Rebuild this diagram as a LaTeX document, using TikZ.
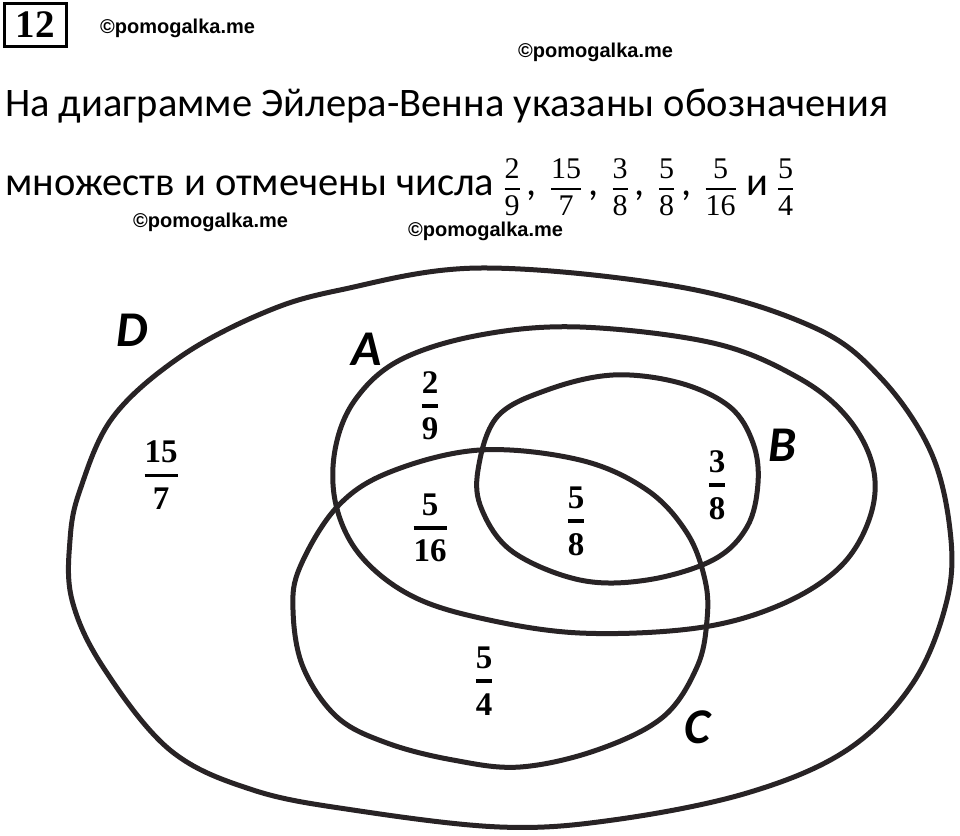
\documentclass[tikz,border=0pt]{standalone}
\usepackage{amsmath}
\usepackage{fontspec}
\setmainfont{Carlito}
\newfontfamily\wmfont{Liberation Sans}
\newfontfamily\digfont{Liberation Serif}
\definecolor{ink}{RGB}{40,35,37}
\tikzset{
    setline/.style={draw=ink, line width=5pt, line join=round},
    setname/.style={font=\fontsize{50}{50}\selectfont\bfseries\itshape},
    wmark/.style={anchor=west, inner sep=0pt, font=\wmfont\fontsize{20}{20}\selectfont\bfseries},
    frnode/.style={inner sep=0pt, font=\digfont\fontsize{33}{33}\selectfont\bfseries},
    textline/.style={anchor=base west, inner sep=0pt, font=\fontsize{40.5}{40.5}\selectfont}
}
\newcommand{\fr}[2]{$\genfrac{}{}{3.5pt}{0}{\hbox{#1}}{\hbox{#2}}$}
\newcommand{\tfr}[2]{\mbox{\fontsize{30}{30}\selectfont$\genfrac{}{}{2pt}{0}{\hbox{\digfont #1}}{\hbox{\digfont #2}}$}}
\newcommand{\cm}{\hspace{6pt},\hspace{13pt}}
\begin{document}
\begin{tikzpicture}[x=1pt, y=-1pt]
        \useasboundingbox (0,0) rectangle (960,835);

        \node[draw, line width=3pt, minimum width=62pt, minimum height=43pt, inner sep=0pt, font=\digfont\fontsize{39}{39}\selectfont\bfseries] (NR) at (35.5,25) {12};

        \node[wmark] (WA) at (100,28) {©pomogalka.me};
        \node[wmark] (WB) at (518,52) {©pomogalka.me};
        \node[wmark] (WC) at (133,222) {©pomogalka.me};
        \node[wmark] (WD) at (408,231) {©pomogalka.me};

        \node[textline] (TA) at (5,116) {На диаграмме Эйлера-Венна указаны обозначения};
        \node[textline] (TB) at (5,195) {множеств и отмечены числа \tfr{2}{9}\cm\tfr{15}{7}\cm\tfr{3}{8}\cm\tfr{5}{8}\cm\tfr{5}{16} и \tfr{5}{4}};

        \draw[setline] plot[smooth cycle, tension=0.6] coordinates {(340,290) (480,268) (680,287) (813,327) (880,377) (930,450) (950,530) (947,600) (913,683) (847,750) (747,793) (613,820) (500,827) (353,810) (253,790) (170,750) (103,667) (72,600) (70,540) (80,490) (113,417) (180,357) (263,313)};
        \draw[setline] plot[smooth cycle, tension=0.6] coordinates {(480,335) (580,327) (713,343) (797,377) (847,417) (873,467) (870,517) (840,567) (780,605) (697,628) (580,633) (480,618) (410,595) (360,555) (336,505) (335,450) (355,400) (400,360)};
        \draw[setline] plot[smooth cycle, tension=0.6] coordinates {(478,470) (497,417) (547,390) (613,375) (680,383) (730,407) (753,443) (758,483) (747,527) (713,560) (647,580) (580,580) (513,552) (482,510)};
        \draw[setline] plot[smooth cycle, tension=0.6] coordinates {(480,450) (580,460) (647,490) (687,533) (705,580) (707,620) (697,667) (663,717) (597,750) (520,767) (453,760) (387,743) (337,717) (303,667) (293,610) (300,567) (337,507) (390,472)};

        \node[setname] (ND) at (132,330) {D};
        \node[setname] (NA) at (367,349) {A};
        \node[setname] (NB) at (783,445) {B};
        \node[setname] (NC) at (697,727) {C};

        \node[frnode] (FD) at (161,475) {\fr{15}{7}};
        \node[frnode] (FA) at (430,406) {\fr{2}{9}};
        \node[frnode] (FAC) at (430,528) {\fr{5}{16}};
        \node[frnode] (FABC) at (576,521) {\fr{5}{8}};
        \node[frnode] (FAB) at (717,485) {\fr{3}{8}};
        \node[frnode] (FC) at (484,681) {\fr{5}{4}};
\end{tikzpicture}
\end{document}
